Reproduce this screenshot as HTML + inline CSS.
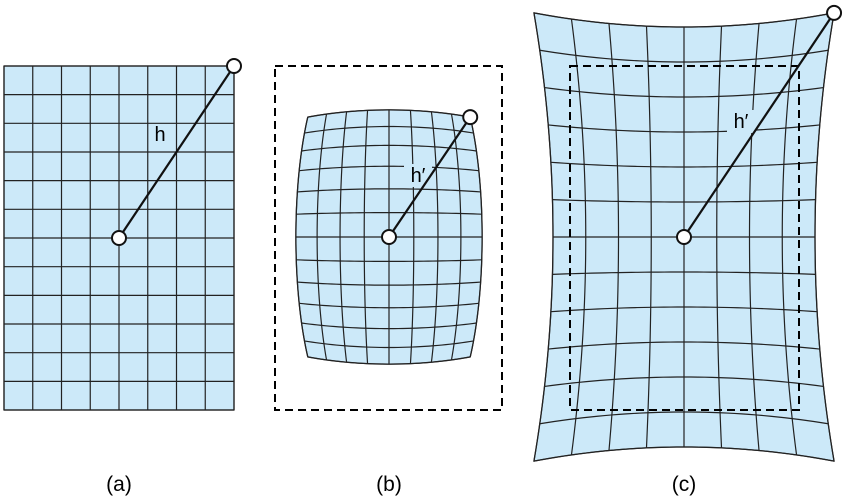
<!DOCTYPE html>
<html><head><meta charset="utf-8"><style>
html,body{margin:0;padding:0;background:#fff;}
svg{display:block;font-family:"Liberation Sans",Arial,sans-serif;}
</style></head><body>
<svg id="fig" width="847" height="499" viewBox="0 0 847 499">
<g id="pa"></g>
<g id="pb"></g>
<g id="pc"></g>
<rect x="275" y="66" width="227" height="344" fill="none" stroke="#000" stroke-width="2" stroke-dasharray="8,5"/>
<text x="119" y="491" font-size="21" text-anchor="middle">(a)</text>
<text x="389" y="491" font-size="21" text-anchor="middle">(b)</text>
<text x="684" y="491" font-size="21" text-anchor="middle">(c)</text>
</svg>
<script>
const NS="http://www.w3.org/2000/svg";
const gridCols=[-4,-3,-2,-1,0,1,2,3,4];
const gridRows=[-6,-5,-4,-3,-2,-1,0,1,2,3,4,5,6];
const centers=[[119,238],[389,237],[684,237]];
const scalesX=[28.75,24.9,32.75];
const scalesY=[28.67,24.5,35];
const kValues=[0,0.00435,0];
const kxValues=[0,0,0.00404];
const kyValues=[0,0,0.0042];
const modes=["none","barrel","pincushion"];
function mapPt(i,u,v){
  const c=centers[i];
  if(modes[i]==="pincushion"){
    return [c[0]+u*scalesX[i]*(1+kxValues[i]*v*v), c[1]+v*scalesY[i]*(1+kyValues[i]*u*u)];
  }
  let f=1;
  if(modes[i]==="barrel")f=1/(1+kValues[i]*(u*u+v*v));
  return [c[0]+u*scalesX[i]*f,c[1]+v*scalesY[i]*f];
}
function el(t,a,p){const e=document.createElementNS(NS,t);for(const k in a)e.setAttribute(k,a[k]);p.appendChild(e);return e;}
const groups=[document.getElementById('pa'),document.getElementById('pb'),document.getElementById('pc')];
const N=40;
for(let i=0;i<3;i++){
  const g=groups[i];
  const u0=gridCols[0],u1=gridCols[gridCols.length-1],v0=gridRows[0],v1=gridRows[gridRows.length-1];
  let pts=[];
  for(let s=0;s<=N;s++)pts.push(mapPt(i,u0+(u1-u0)*s/N,v0));
  for(let s=0;s<=N;s++)pts.push(mapPt(i,u1,v0+(v1-v0)*s/N));
  for(let s=0;s<=N;s++)pts.push(mapPt(i,u1-(u1-u0)*s/N,v1));
  for(let s=0;s<=N;s++)pts.push(mapPt(i,u0,v1-(v1-v0)*s/N));
  const fill=el('polygon',{points:pts.map(p=>p.join(',')).join(' '),fill:'#cce9f9',stroke:'#333',"stroke-width":1.3},g);
  
  
  gridCols.forEach(u=>{let p=[];for(let s=0;s<=N;s++)p.push(mapPt(i,u,v0+(v1-v0)*s/N));
    const l=el('polyline',{points:p.map(q=>q.join(',')).join(' '),fill:'none',stroke:'#222',"stroke-width":1.2},g);
    
    });
  gridRows.forEach(v=>{let p=[];for(let s=0;s<=N;s++)p.push(mapPt(i,u0+(u1-u0)*s/N,v));
    const l=el('polyline',{points:p.map(q=>q.join(',')).join(' '),fill:'none',stroke:'#222',"stroke-width":1.2},g);
    
    });
  if(i===2){
    const r=el('rect',{x:570,y:66,width:229,height:344,fill:'none',stroke:'#000',"stroke-width":2,"stroke-dasharray":"8,5"},g);
    
    
  }
  const c=centers[i],e=mapPt(i,u1,v0);
  const lab=i===0?[160,141,'h']:i===1?[418,182,'h′']:[741,128,'h′'];
  if(i>0){const bg=el('rect',{x:lab[0]-14,y:lab[1]-18,width:28,height:23,fill:'#cce9f9'},g);
    
    }
  const ln=el('line',{x1:c[0],y1:c[1],x2:e[0],y2:e[1],stroke:'#111',"stroke-width":2.2},g);
  
  
  const t=el('text',{x:lab[0],y:lab[1],"font-size":20,"text-anchor":"middle"},g);t.textContent=lab[2];
  
  
  [c,e].forEach(p=>{const ci=el('circle',{cx:p[0],cy:p[1],r:7,fill:'#fff',stroke:'#111',"stroke-width":2},g);
    
    });
}
</script>
</body></html>
